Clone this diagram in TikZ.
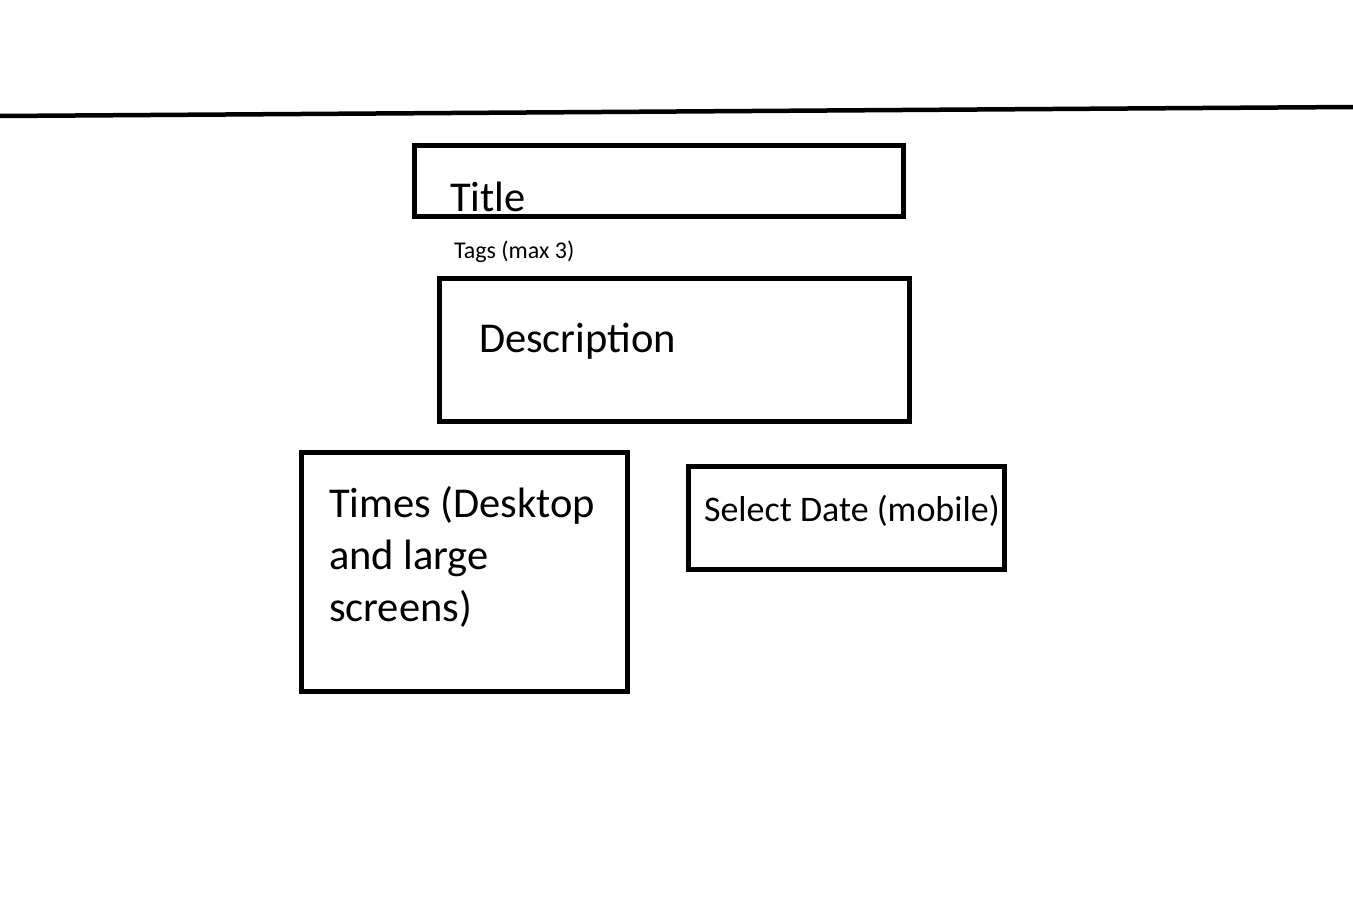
\documentclass[tikz,border=0pt]{standalone}
\usepackage{fontspec}
\setmainfont{Carlito}
\begin{document}
\begin{tikzpicture}[x=1pt,y=-1pt,
  box/.style={draw=black, line width=5pt, rectangle, inner sep=0pt, fill=none},
  label/.style={anchor=base west, inner sep=0pt, outer sep=0pt, text=black},
  big/.style={font=\fontsize{42.5}{52}\selectfont},
]
\useasboundingbox[fill=white] (0,0) rectangle (1353,902);
% top rule
\coordinate (ruleL) at (0,116);
\coordinate (ruleR) at (1353,107);
\draw[line width=4.5pt] (ruleL) -- (ruleR);
% boxes
\node[box, minimum width=489pt, minimum height=71pt] (titlebox) at (659,181) {};
\node[box, minimum width=470pt, minimum height=143pt] (descbox) at (674.5,350) {};
\node[box, minimum width=326pt, minimum height=239pt] (timesbox) at (464.5,572) {};
\node[box, minimum width=316pt, minimum height=103pt] (datebox) at (846.5,518) {};
% texts
\node[label, big] (title) at (450,211) {Title};
\node[label, font=\fontsize{24}{28}\selectfont] (tags) at (454,258) {Tags (max 3)};
\node[label, big] (desc) at (479,352) {Description};
\node[label, big, align=left] (times) at (329,621) {Times (Desktop\\and large\\screens)};
\node[label, font=\fontsize{36}{42}\selectfont] (date) at (704,521) {Select Date (mobile)};
\end{tikzpicture}
\end{document}
